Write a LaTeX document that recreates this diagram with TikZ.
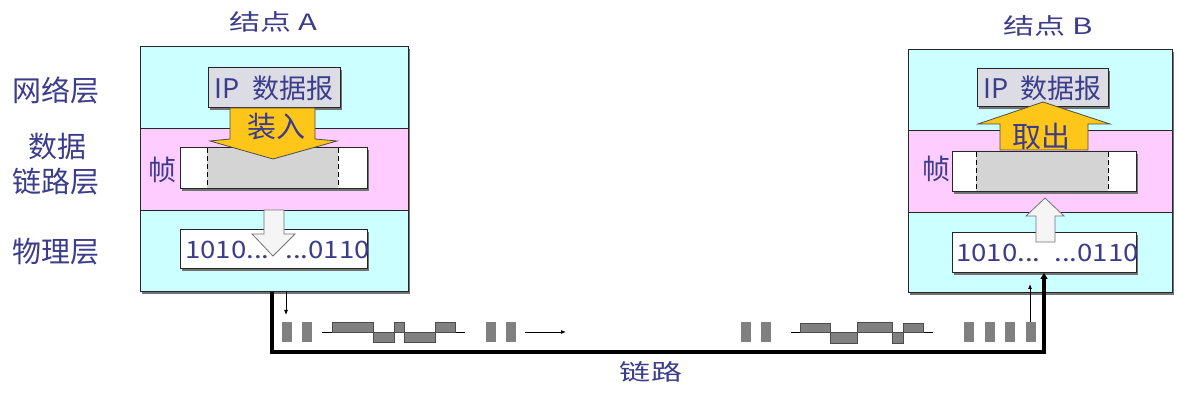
\documentclass[tikz,border=0pt]{standalone}
\usepackage{fontspec}
\setmainfont{Noto Sans CJK SC}
\newfontfamily\widefont[FakeStretch=1.38]{Noto Sans CJK SC}
\newfontfamily\digitfont[FakeStretch=1.15]{Noto Sans CJK SC}
\usetikzlibrary{arrows.meta}
\definecolor{txt}{HTML}{3C3C8C}
\definecolor{cy}{HTML}{CCFFFF}
\definecolor{pk}{HTML}{FFCCFF}
\definecolor{yel}{HTML}{FFC61A}
\definecolor{ipfill}{HTML}{DCDCE4}
\definecolor{bargray}{HTML}{808080}
\definecolor{framegray}{HTML}{D4D4D4}
\tikzset{
  outerbox/.style={draw=black!85, line width=1pt, inner sep=0pt, outer sep=0pt},
  layerline/.style={draw=black!85, line width=0.9pt},
  ipbox/.style={draw=black!85, line width=1pt, fill=ipfill, inner sep=0pt, outer sep=0pt, text=txt, font=\fontsize{27}{30}\selectfont},
  framebox/.style={draw=black!85, line width=1pt, fill=white, inner sep=0pt, outer sep=0pt},
  databox/.style={draw=black!85, line width=1pt, fill=white, inner sep=0pt, outer sep=0pt},
  shadowfill/.style={fill=black!55},
  lbl/.style={text=txt, inner sep=0pt, font=\fontsize{29}{31}\selectfont},
  title/.style={text=txt, inner sep=0pt, font=\widefont\fontsize{22.5}{24}\selectfont},
  framelbl/.style={text=txt, inner sep=0pt, font=\fontsize{28}{30}\selectfont},
  digits/.style={text=txt, inner sep=0pt, font=\digitfont\fontsize{24}{26}\selectfont},
  yarrow/.style={fill=yel, draw=black!70, line width=0.8pt},
  warrow/.style={fill=white!96!black, draw=black!55, line width=0.8pt},
  arrowlbl/.style={text=txt, inner sep=0pt, font=\fontsize{29}{31}\selectfont},
  dashsep/.style={draw=black, dashed, line width=0.9pt, dash pattern=on 5pt off 3pt},
  bar/.style={fill=bargray},
  pulse/.style={fill=bargray, draw=black!70, line width=0.6pt},
  baseline/.style={draw=black, line width=0.8pt},
  link/.style={draw=black, line width=3.5pt},
  thinarrow/.style={draw=black, line width=0.8pt, -{Latex[length=5pt,width=4pt]}},
}
\begin{document}
\begin{tikzpicture}[x=1pt,y=-1pt]
\useasboundingbox (0,0) rectangle (1178,395);
\fill[white] (0,0) rectangle (1178,395);

% ---------- Node A ----------
\fill[shadowfill] (142,49) rectangle (410,294);
\fill[cy] (140,47) rectangle (408,128);
\fill[pk] (140,128) rectangle (408,210);
\fill[cy] (140,210) rectangle (408,292);
\draw[layerline] (140,128) -- (408,128);
\draw[layerline] (140,210) -- (408,210);
\node[outerbox, minimum width=268pt, minimum height=245pt] (nodeA) at (274,169.5) {};

\fill[shadowfill] (210,70) rectangle (342,110);
\node[ipbox, minimum width=132pt, minimum height=40pt] (ipA) at (274,88) {IP\hspace{0.45em}数据报};

\fill[shadowfill] (182,150) rectangle (369,191);
\node[framebox, minimum width=187pt, minimum height=41pt] (frameA) at (273.5,168.5) {};
\fill[framegray] (207,148.5) rectangle (338,188.5);
\draw[dashsep] (207,148.5) -- (207,188.5);
\draw[dashsep] (338,148.5) -- (338,188.5);
\node[framelbl] (zhenA) at (162,170) {帧};

\fill[shadowfill] (182,232) rectangle (369,271);
\node[databox, minimum width=187pt, minimum height=39pt] (dataA) at (273.5,249.5) {};
\node[digits, anchor=west] (bitsA1) at (185,250) {1010...};
\node[digits, anchor=east] (bitsA2) at (370,250) {...0110};

\path[yarrow] (230,108) -- (315,108) -- (315,139) -- (337,141) -- (273,159) -- (210,141) -- (230,139) -- cycle;
\node[arrowlbl] (zhuangru) at (276,127) {装入};

\path[warrow] (264,210) -- (284,210) -- (284,234) -- (295,234) -- (273,256) -- (252,234) -- (264,234) -- cycle;

% ---------- Node B ----------
\fill[shadowfill] (910,52) rectangle (1174,295);
\fill[cy] (908,50) rectangle (1172,130);
\fill[pk] (908,130) rectangle (1172,212);
\fill[cy] (908,212) rectangle (1172,293);
\draw[layerline] (908,130) -- (1172,130);
\draw[layerline] (908,212) -- (1172,212);
\node[outerbox, minimum width=264pt, minimum height=243pt] (nodeB) at (1040,171.5) {};

\fill[shadowfill] (979,71) rectangle (1110,109);
\node[ipbox, minimum width=131pt, minimum height=38pt] (ipB) at (1042.5,88) {IP\hspace{0.45em}数据报};

\fill[shadowfill] (954,154) rectangle (1138,194);
\node[framebox, minimum width=184pt, minimum height=40pt] (frameB) at (1044,172) {};
\fill[framegray] (976,152.5) rectangle (1108,191.5);
\draw[dashsep] (976,152.5) -- (976,191.5);
\draw[dashsep] (1108,152.5) -- (1108,191.5);
\node[framelbl] (zhenB) at (936,169) {帧};

\fill[shadowfill] (954,235) rectangle (1138,275);
\node[databox, minimum width=184pt, minimum height=40pt] (dataB) at (1044,253) {};
\node[digits, anchor=west] (bitsB1) at (956,253) {1010...};
\node[digits, anchor=east] (bitsB2) at (1139,253) {...0110};

\path[yarrow] (1043,102) -- (1110,124) -- (1088,124) -- (1088,150) -- (1000,150) -- (1000,124) -- (978,124) -- cycle;
\node[arrowlbl] (quchu) at (1041,136) {取出};

\path[warrow] (1045,198) -- (1064,216) -- (1055,216) -- (1055,242) -- (1036,242) -- (1036,216) -- (1026,216) -- cycle;

% ---------- Titles and layer labels ----------
\node[title] (titleA) at (273,22) {结点 A};
\node[title] (titleB) at (1048,26) {结点 B};
\node[lbl] (netlayer) at (56,90) {网络层};
\node[lbl] (dl1) at (57,147) {数据};
\node[lbl] (dl2) at (56,182) {链路层};
\node[lbl] (phys) at (56,252) {物理层};

% ---------- Link ----------
\coordinate (aout) at (272,292);
\draw[link, -{Triangle[length=6pt,width=7pt]}] (aout) -- (272,352) -| (dataB.south);
\node[title] (linklbl) at (651,372) {链路};

\coordinate (tA1) at (286,292);
\coordinate (tA2) at (286,315);
\draw[thinarrow] (tA1) -- (tA2);
\coordinate (tB1) at (1030,323);
\coordinate (tB2) at (1030,284);
\draw[thinarrow] (tB1) -- (tB2);

% signal bars left
\fill[bar] (282,322) rectangle (292,342);
\fill[bar] (302,322) rectangle (312,342);
\fill[bar] (486,322) rectangle (496,342);
\fill[bar] (506,322) rectangle (516,342);
\draw[baseline] (322,332) -- (465,332);
\filldraw[pulse] (332,322) rectangle (373,332);
\filldraw[pulse] (373,332) rectangle (394,342);
\filldraw[pulse] (394,322) rectangle (404,332);
\filldraw[pulse] (404,332) rectangle (435,342);
\filldraw[pulse] (435,322) rectangle (455,332);
\coordinate (sa1) at (525,332);
\coordinate (sa2) at (566,332);
\draw[thinarrow] (sa1) -- (sa2);

% signal bars right
\fill[bar] (741,322) rectangle (751,342);
\fill[bar] (761,322) rectangle (771,342);
\draw[baseline] (791,332) -- (933,332);
\filldraw[pulse] (800,323) rectangle (830,332);
\filldraw[pulse] (830,332) rectangle (857,343);
\filldraw[pulse] (857,322) rectangle (892,332);
\filldraw[pulse] (892,332) rectangle (903,343);
\filldraw[pulse] (903,323) rectangle (923,332);
\fill[bar] (964,322) rectangle (974,342);
\fill[bar] (985,322) rectangle (995,342);
\fill[bar] (1005,322) rectangle (1015,342);
\fill[bar] (1026,322) rectangle (1036,342);
\end{tikzpicture}
\end{document}
